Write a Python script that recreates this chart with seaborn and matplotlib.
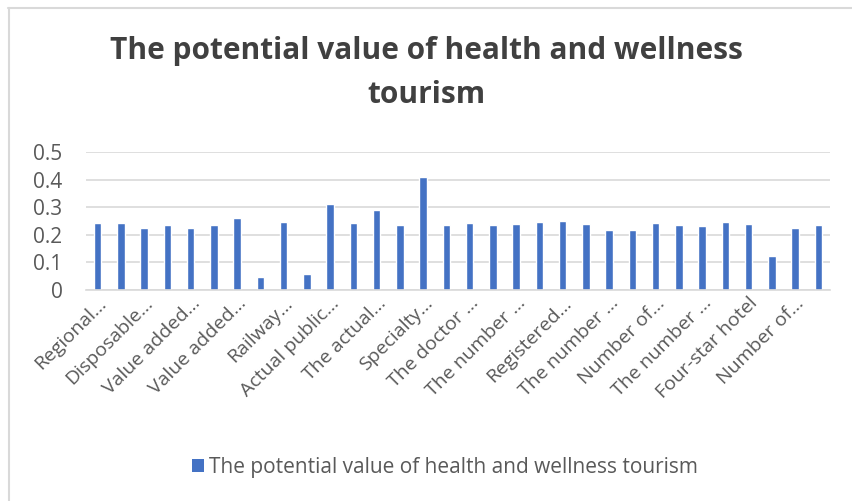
import numpy as np
import pandas as pd
import matplotlib
matplotlib.use("Agg")
import matplotlib.pyplot as plt
import seaborn as sns
from matplotlib.lines import Line2D
from matplotlib.patches import Patch

# ==============================
# Data
# ==============================

tick_labels = [
    "Regional...", "Disposable...", "Value added...", "Value added...",
    "Railway...", "Actual public...", "The actual...", "Specialty...",
    "The doctor ...", "The number ...", "Registered...", "The number ...",
    "Number of...", "The number ...", "Four-star hotel", "Number of...",
]

values = [
    0.244, 0.241, 0.225, 0.236, 0.223, 0.234, 0.262, 0.048,
    0.248, 0.058, 0.311, 0.242, 0.290, 0.234, 0.411, 0.234,
    0.241, 0.234, 0.240, 0.248, 0.251, 0.240, 0.219, 0.219,
    0.242, 0.234, 0.233, 0.245, 0.238, 0.122, 0.224, 0.235,
]

series_name = "The potential value of health and wellness tourism"

df = pd.DataFrame({"idx": np.arange(len(values)), "value": values})

# ==============================
# Style
# ==============================

sns.set_style("white")
plt.rcParams["font.family"] = ["Open Sans", "DejaVu Sans"]

bar_color = "#4472C4"
text_color = "#595959"
grid_color = "#D9D9D9"

fig = plt.figure(figsize=(8.53, 5.01), dpi=100)
ax = fig.add_axes([86 / 853, 1 - 290 / 501, (830 - 86) / 853, (290 - 152) / 501])

sns.barplot(data=df, x="idx", y="value", color=bar_color, width=0.33,
            saturation=1, ax=ax)

ax.set_ylim(0, 0.5)
ax.set_yticks([0, 0.1, 0.2, 0.3, 0.4, 0.5])
ax.set_yticklabels(["0", "0.1", "0.2", "0.3", "0.4", "0.5"])
ax.yaxis.grid(True, color=grid_color, linewidth=1.2)
ax.set_axisbelow(True)

ax.set_xticks(np.arange(0, len(values), 2))
ax.set_xticklabels(tick_labels, rotation=45, ha="right",
                   rotation_mode="anchor")
ax.set_xlim(-0.5, len(values) - 0.5)

ax.tick_params(axis="y", length=0, pad=17, labelsize=15, labelcolor=text_color)
ax.tick_params(axis="x", length=0, pad=3, labelsize=14, labelcolor=text_color)
ax.set_xlabel("")
ax.set_ylabel("")

for s in ["top", "right", "left"]:
    ax.spines[s].set_visible(False)
ax.spines["bottom"].set_color(grid_color)
ax.spines["bottom"].set_linewidth(1.2)

# ==============================
# Title and legend
# ==============================

fig.text(0.5, 1 - 73 / 501, "The potential value of health and wellness\ntourism",
         ha="center", va="center", fontsize=21.5, fontweight="bold",
         color="#404040", linespacing=1.6)

handle = Patch(facecolor=bar_color, edgecolor="none")
fig.legend([handle], [series_name], loc="center",
           bbox_to_anchor=(445 / 853, 1 - 467 / 501), frameon=False,
           fontsize=15, labelcolor=text_color, handlelength=0.6,
           handleheight=0.6, handletextpad=0.25)

# chart frame (only top and left edges visible)
fig.add_artist(Line2D([8 / 853, 1], [1 - 7.5 / 501, 1 - 7.5 / 501],
                      color=grid_color, linewidth=1.5))
fig.add_artist(Line2D([8.5 / 853, 8.5 / 853], [0, 1 - 7.5 / 501],
                      color=grid_color, linewidth=1.5))

plt.savefig("out.png", dpi=100)
plt.close()
